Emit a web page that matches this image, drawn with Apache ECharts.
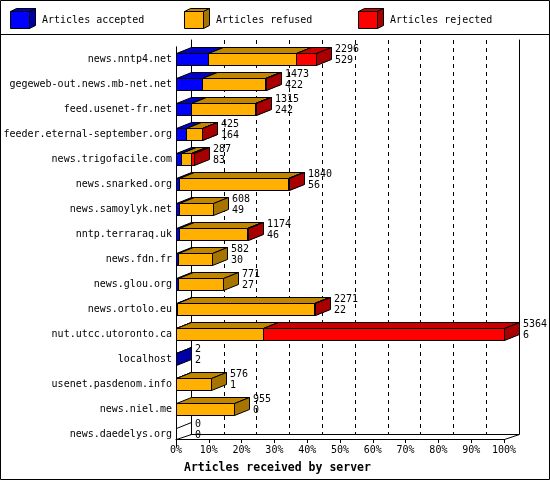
<!DOCTYPE html>
<html><head><meta charset="utf-8">
<script src="https://cdn.jsdelivr.net/npm/echarts@6/dist/echarts.min.js"></script>
<style>html,body{margin:0;padding:0;background:#fff}#c{width:550px;height:480px}</style>
</head><body><div id="c"></div><script>
const servers = ['news.nntp4.net','gegeweb-out.news.mb-net.net','feed.usenet-fr.net','feeder.eternal-september.org','news.trigofacile.com','news.snarked.org','news.samoylyk.net','nntp.terraraq.uk','news.fdn.fr','news.glou.org','news.ortolo.eu','nut.utcc.utoronto.ca','localhost','usenet.pasdenom.info','news.niel.me','news.daedelys.org'];
const totals   = [2296,1473,1315,425,287,1840,608,1174,582,771,2271,5364,2,576,955,0];
const accepted = [529,422,242,164,83,56,49,46,30,27,22,6,2,1,0,0];
const refused  = [1437,1039,1048,257,159,1776,559,1113,552,744,2234,1415,0,575,955,0];
const rejected = [330,12,25,4,45,8,0,15,0,0,15,3943,0,0,0,0];
const seriesNames = ['Articles accepted','Articles refused','Articles rejected'];
const pctLabels = ['0%','10%','20%','30%','40%','50%','60%','70%','80%','90%','100%'];

const MONO = '"DejaVu Sans Mono", "Liberation Mono", monospace';
const COLORS = [
  {front:'#0000ff', top:'#0000c8', side:'#0000a8'},
  {front:'#ffb000', top:'#c08600', side:'#a87400'},
  {front:'#ff0000', top:'#c80000', side:'#a80000'}
];
const DX = 15, DY = 6, BH = 12;
const maxTotal = Math.max(...totals);
const step = maxTotal / 10;

const segs = [accepted, refused, rejected];
function segData(k) {
  return servers.map((s, i) => {
    let start = 0;
    for (let j = 0; j < k; j++) start += segs[j][i];
    return [start, start + segs[k][i], i];
  });
}
const px = v => Math.round(v) + 0.5;

function makeBox(k) {
  const c = COLORS[k];
  return function (params, api) {
    const s = api.value(0), e = api.value(1), i = api.value(2);
    if (!(e > s)) return null;
    const p0 = api.coord([s, i]), p1 = api.coord([e, i]);
    const x0 = px(p0[0]), x1 = px(p1[0]);
    const yT = px(p0[1] - BH / 2), yB = px(p0[1] + BH / 2);
    const st = {stroke:'#000', lineWidth:1};
    return {type:'group', children:[
      {type:'polygon', shape:{points:[[x0,yT],[x0+DX,yT-DY],[x1+DX,yT-DY],[x1,yT]]}, style:Object.assign({fill:c.top}, st)},
      {type:'polygon', shape:{points:[[x1,yT],[x1+DX,yT-DY],[x1+DX,yB-DY],[x1,yB]]}, style:Object.assign({fill:c.side}, st)},
      {type:'polygon', shape:{points:[[x0,yT],[x1,yT],[x1,yB],[x0,yB]]}, style:Object.assign({fill:c.front}, st)}
    ]};
  };
}

function labelItem(params, api) {
  const t = api.value(0), i = api.value(1), a = api.value(2);
  const p = api.coord([t, i]);
  const ch = [{type:'text', style:{text: t + '\n' + a, x: Math.round(p[0]) + DX + 4, y: p[1] - 16,
    font: '10px ' + MONO, fill:'#000', lineHeight: 11.5, verticalAlign:'top', align:'left'}}];
  if (t === 0) {
    const x0 = px(p[0]), yT = px(p[1] - BH / 2);
    ch.push({type:'line', shape:{x1:x0, y1:yT, x2:x0+DX, y2:yT-DY}, style:{stroke:'#000', lineWidth:1}});
  }
  return {type:'group', children: ch};
}

const series = [0,1,2].map(k => ({
  type:'custom', name: seriesNames[k], xAxisIndex:0, yAxisIndex:0,
  renderItem: makeBox(k), data: segData(k), clip:false, silent:true,
  encode:{x:[0,1], y:2}
}));
series.push({
  type:'custom', name:'labels', xAxisIndex:0, yAxisIndex:0, renderItem: labelItem, clip:false, silent:true,
  data: servers.map((s, i) => [totals[i], i, accepted[i]]), encode:{x:0, y:1}, z: 5
});

// legend cubes
const legendX = [10, 184, 358];
const legendGraphics = [];
seriesNames.forEach((n, k) => {
  const c = COLORS[k], x = legendX[k] + 0.5, y = 11.5, w = 19, h = 17, dx = 6, dy = 3;
  legendGraphics.push({type:'polygon', shape:{points:[[x,y],[x+dx,y-dy],[x+w+dx,y-dy],[x+w,y]]}, style:{fill:c.top, stroke:'#000', lineWidth:1}});
  legendGraphics.push({type:'polygon', shape:{points:[[x+w,y],[x+w+dx,y-dy],[x+w+dx,y+h-dy],[x+w,y+h]]}, style:{fill:c.side, stroke:'#000', lineWidth:1}});
  legendGraphics.push({type:'rect', shape:{x:x, y:y, width:w, height:h}, style:{fill:c.front, stroke:'#000', lineWidth:1}});
  legendGraphics.push({type:'text', style:{text:n, x: legendX[k] + 32, y: 20, font:'10px ' + MONO, fill:'#000', verticalAlign:'middle'}});
});

const option = {
  animation:false,
  backgroundColor:'#fff',
  title:{text:'Articles received by server', left:179, top:457,
    textStyle:{fontFamily:MONO, fontWeight:'bold', fontSize:11.5, color:'#000'}},
  grid:[
    {left:176, right:46, top:46.8, bottom:33.2},
    {left:191, right:31, top:40, bottom:46},
    {left:176, right:46, top:45, bottom:41}
  ],
  xAxis:[
    {gridIndex:0, type:'value', min:0, max:maxTotal, show:false},
    {gridIndex:1, type:'value', min:0, max:maxTotal, interval:step,
      axisLine:{show:true, onZero:false, lineStyle:{color:'#000', width:1}}, axisTick:{show:false}, axisLabel:{show:false},
      splitLine:{show:true, lineStyle:{color:'#000', type:[4,4], width:1}}},
    {gridIndex:2, type:'value', min:0, max:maxTotal, interval:step,
      axisLine:{show:true, onZero:false, lineStyle:{color:'#000', width:1}},
      axisTick:{show:true, length:4, lineStyle:{color:'#000'}},
      splitLine:{show:false},
      axisLabel:{margin:6, fontFamily:MONO, fontSize:10, color:'#000',
        formatter: v => pctLabels[Math.round(v / step)]}}
  ],
  yAxis:[
    {gridIndex:0, type:'category', data:servers, inverse:true,
      axisLine:{show:true, lineStyle:{color:'#000', width:1}}, axisTick:{show:false},
      axisLabel:{margin:4, fontFamily:MONO, fontSize:10, color:'#000'}},
    {gridIndex:1, type:'value', min:0, max:1, axisLine:{show:true, onZero:false, lineStyle:{color:'#000'}},
      axisTick:{show:false}, axisLabel:{show:false}, splitLine:{show:false}},
    {gridIndex:1, type:'value', min:0, max:1, position:'right', axisLine:{show:true, onZero:false, lineStyle:{color:'#000'}},
      axisTick:{show:false}, axisLabel:{show:false}, splitLine:{show:false}},
    {gridIndex:2, type:'value', min:0, max:1, show:false}
  ],
  graphic:[
    {type:'rect', shape:{x:0.5, y:0.5, width:549, height:479}, style:{fill:'none', stroke:'#000', lineWidth:1}, z:-1},
    {type:'line', shape:{x1:0, y1:34.5, x2:550, y2:34.5}, style:{stroke:'#000', lineWidth:1}},
    {type:'line', shape:{x1:176.5, y1:439.5, x2:191.5, y2:434.5}, style:{stroke:'#000', lineWidth:1}},
    {type:'line', shape:{x1:504.5, y1:439.5, x2:519.5, y2:434.5}, style:{stroke:'#000', lineWidth:1}}
  ].concat(legendGraphics),
  series: series
};
const chart = echarts.init(document.getElementById('c'), null, {renderer:'canvas'});
chart.setOption(option);
</script></body></html>
